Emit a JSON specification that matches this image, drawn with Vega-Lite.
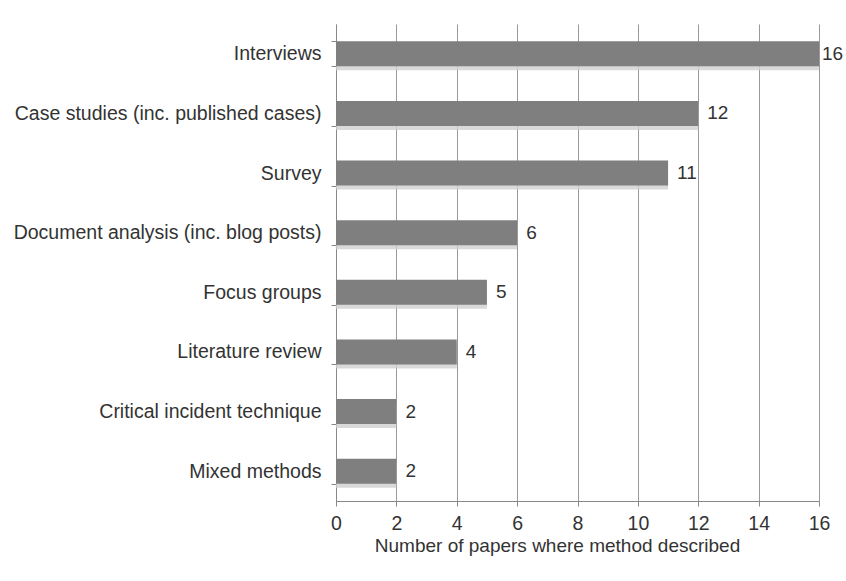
{
  "$schema": "https://vega.github.io/schema/vega-lite/v6.json",
  "width": 483,
  "height": 477,
  "autosize": "none",
  "padding": {"left": 336, "top": 24, "right": 27, "bottom": 80},
  "background": "white",
  "data": {"values": [
    {"method": "Interviews", "n": 16},
    {"method": "Case studies (inc. published cases)", "n": 12},
    {"method": "Survey", "n": 11},
    {"method": "Document analysis (inc. blog posts)", "n": 6},
    {"method": "Focus groups", "n": 5},
    {"method": "Literature review", "n": 4},
    {"method": "Critical incident technique", "n": 2},
    {"method": "Mixed methods", "n": 2}
  ]},
  "config": {
    "view": {"stroke": null},
    "font": "Liberation Sans",
    "axis": {"labelFont": "Liberation Sans", "titleFont": "Liberation Sans", "labelColor": "#333", "titleColor": "#333", "domainColor": "#888", "tickColor": "#888"}
  },
  "encoding": {
    "y": {"field": "method", "type": "nominal", "sort": null,
      "scale": {"paddingInner": 0.58, "paddingOuter": 0.29},
      "axis": {"title": null, "labelFontSize": 19.5, "labelPadding": 10, "labelLimit": 400, "tickBand": "extent", "tickSize": 5, "grid": false}},
    "x": {"field": "n", "type": "quantitative",
      "scale": {"domain": [0, 16], "nice": false},
      "axis": {"title": "Number of papers where method described", "titleFontSize": 19, "titleFontWeight": "normal", "titlePadding": 4, "titleX": 221, "labelFontSize": 19.5, "labelPadding": 8, "labelOverlap": false, "values": [0,2,4,6,8,10,12,14,16], "gridColor": "#999", "gridOpacity": 1, "tickSize": 5, "labelFlush": false}}
  },
  "layer": [
    {"mark": {"type": "bar", "color": "#cfcfcf", "yOffset": 4, "opacity": 0.8}},
    {"mark": {"type": "bar", "color": "#7f7f7f"}},
    {"transform": [{"filter": "datum.n < 16"}],
     "mark": {"type": "text", "align": "left", "dx": 9, "fontSize": 19, "color": "#333"},
     "encoding": {"text": {"field": "n"}}},
    {"transform": [{"filter": "datum.n >= 16"}],
     "mark": {"type": "text", "align": "left", "dx": 3, "fontSize": 19, "color": "#333"},
     "encoding": {"text": {"field": "n"}}}
  ]
}
